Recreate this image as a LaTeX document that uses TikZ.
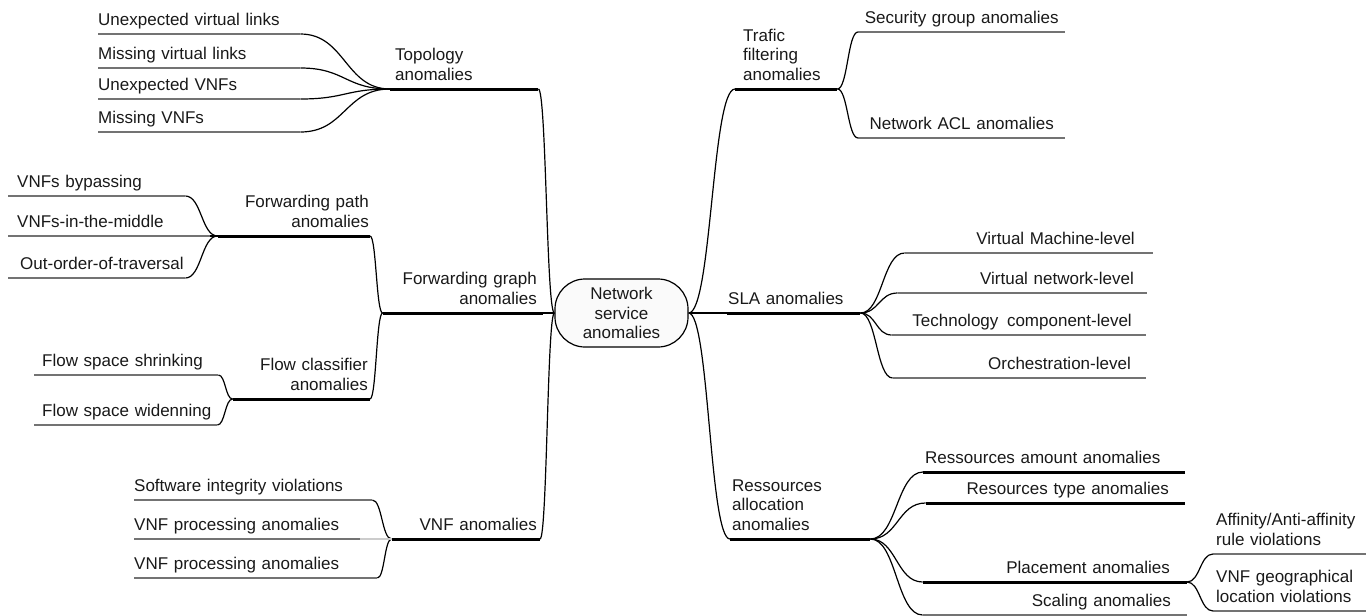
\documentclass[tikz,border=0pt]{standalone}
\usepackage{fontspec}
\setmainfont{Liberation Sans}
\usetikzlibrary{calc}
\newcommand\mapfont{\fontsize{17}{19.5}\selectfont}

\begin{document}
\begin{tikzpicture}[x=1pt,y=-1pt,
    every node/.style={font=\mapfont, text=black!90},
    topic/.style={inner xsep=0pt, inner ysep=2.5pt, execute at end node=\strut},
    lefttopic/.style={topic, anchor=south west, align=left},
    righttopic/.style={topic, anchor=south east, align=right},
    root/.style={draw, line width=1.2pt, fill=black!2, rounded corners=30pt,
        minimum width=133pt, minimum height=68pt, align=center, inner sep=0pt},
    branch/.style={to path={let \p1=(\tikztostart), \p2=(\tikztotarget) in
        .. controls ({(\x1+\x2)/2},\y1) and ({(\x1+\x2)/2},\y2) .. (\tikztotarget)}},
    link/.style={line width=1.2pt},
    leafline/.style={line width=2pt, black!55},
    mainline/.style={line width=3pt, black}]

\useasboundingbox (0,0) rectangle (1366,616);

\node[root] (ns) at (621.5,313) {Network\\service\\anomalies};

% topology
\node[lefttopic, text width=138pt, inner xsep=5pt] (topo) at (390,89) {Topology\\anomalies};
\node[lefttopic, text width=202pt] (uvl) at (98,34) {Unexpected virtual links};
\node[lefttopic, text width=202pt] (mvl) at (98,68) {Missing virtual links};
\node[lefttopic, text width=202pt] (uvnf) at (98,99) {Unexpected VNFs};
\node[lefttopic, text width=202pt] (mvnf) at (98,132) {Missing VNFs};

% forwarding graph
\node[righttopic, text width=148pt, inner xsep=6pt] (fgraph) at (543,313) {Forwarding graph\\anomalies};
\node[righttopic, text width=150pt, inner xsep=1pt] (fpath) at (370,236) {Forwarding path\\anomalies};
\node[lefttopic, text width=177pt] (byp) at (8,196) {\hspace*{9pt}VNFs bypassing};
\node[lefttopic, text width=202pt] (mid) at (8,236) {\hspace*{9pt}VNFs-in-the-middle};
\node[lefttopic, text width=177pt] (ooo) at (8,278) {\hspace*{12pt}Out-order-of-traversal};
\node[righttopic, text width=133pt, inner xsep=2pt] (fclass) at (370,399) {Flow classifier\\anomalies};
\node[lefttopic, text width=184pt] (shr) at (34,375) {\hspace*{8pt}Flow space shrinking};
\node[lefttopic, text width=183pt] (wid) at (34,425) {\hspace*{8pt}Flow space widenning};

% vnf
\node[righttopic, text width=142pt, inner xsep=3pt] (vnf) at (540,539) {VNF anomalies};
\node[lefttopic, text width=238pt] (siv) at (134,500) {Software integrity violations};
\node[lefttopic, text width=226pt] (vpa1) at (134,539) {VNF processing anomalies};
\node[lefttopic, text width=243pt] (vpa2) at (134,578) {VNF processing anomalies};

% traffic filtering
\node[lefttopic, text width=86pt, inner xsep=8pt] (traffic) at (735,89) {Trafic\\filtering\\anomalies};
\node[topic, anchor=south west, align=center, text width=207pt] (sgrp) at (858,32) {Security group anomalies};
\node[topic, anchor=south west, align=center, text width=207pt] (nacl) at (858,138) {Network ACL anomalies};

% sla
\node[lefttopic, text width=131pt, inner xsep=1pt] (sla) at (727,313) {SLA anomalies};
\node[righttopic, text width=212pt, inner xsep=18pt] (vml) at (1153,253) {Virtual Machine-level};
\node[righttopic, text width=223pt, inner xsep=13pt] (vnl) at (1147,293) {Virtual network-level};
\node[righttopic, text width=226pt, inner xsep=14pt] (tcl) at (1146,335) {Technology\ \hspace{3pt}component-level};
\node[righttopic, text width=223pt, inner xsep=15pt] (orl) at (1146,378) {Orchestration-level};

% resources
\node[lefttopic, text width=136pt, inner xsep=2pt] (res) at (730,539) {Ressources\\allocation\\anomalies};
\node[lefttopic, text width=258pt, inner xsep=2pt] (amount) at (923,472) {Ressources amount anomalies};
\node[righttopic, text width=227pt, inner xsep=16pt] (rtype) at (1185,503) {Resources type anomalies};
\node[righttopic, text width=230pt, inner xsep=17pt] (place) at (1187,582) {Placement anomalies};
\node[righttopic, text width=232pt, inner xsep=16pt] (scale) at (1187,615) {Scaling anomalies};
\node[lefttopic, text width=147pt, inner xsep=3pt] (aff) at (1213,554) {Affinity/Anti-affinity\\rule violations};
\node[lefttopic, text width=147pt, inner xsep=3pt] (geo) at (1213,611) {VNF geographical\\location violations};

% underlines
\foreach \t in {topo,fgraph,fpath,fclass,vnf,traffic,sla,res,amount,rtype,place}
    \draw[mainline] (\t.south west) -- (\t.south east);
\foreach \t in {uvl,mvl,uvnf,mvnf,byp,mid,ooo,shr,wid,siv,vpa1,vpa2,sgrp,nacl,vml,vnl,tcl,orl,scale,aff,geo}
    \draw[leafline] (\t.south west) -- (\t.south east);

% left branches
\foreach \t in {uvl,mvl,uvnf,mvnf}
    \draw[link] (\t.south east) to[branch] (topo.south west);
\foreach \t in {byp,mid,ooo}
    \draw[link] (\t.south east) to[branch] (fpath.south west);
\foreach \t in {shr,wid}
    \draw[link] (\t.south east) to[branch] (fclass.south west);
\foreach \t in {fpath,fclass}
    \draw[link] (\t.south east) to[branch] (fgraph.south west);
\foreach \t in {siv,vpa2}
    \draw[link] (\t.south east) to[branch] (vnf.south west);
\draw[link,black!20] (vpa1.south east) -- (vnf.south west);
\foreach \t in {topo,vnf}
    \draw[link] (\t.south east) to[branch] (ns.west);
\draw[link] (fgraph.south east) -- (ns.west);

% right branches
\draw[link] (ns.east) to[branch] (traffic.south west);
\draw[link] (ns.east) -- (sla.south west);
\draw[link] (ns.east) to[branch] (res.south west);
\foreach \t in {sgrp,nacl}
    \draw[link] (traffic.south east) to[branch] (\t.south west);
\foreach \t in {vml,vnl,tcl,orl}
    \draw[link] (sla.south east) to[branch] (\t.south west);
\foreach \t in {amount,rtype,place,scale}
    \draw[link] (res.south east) to[branch] (\t.south west);
\foreach \t in {aff,geo}
    \draw[link] (place.south east) to[branch] (\t.south west);

\end{tikzpicture}
\end{document}
